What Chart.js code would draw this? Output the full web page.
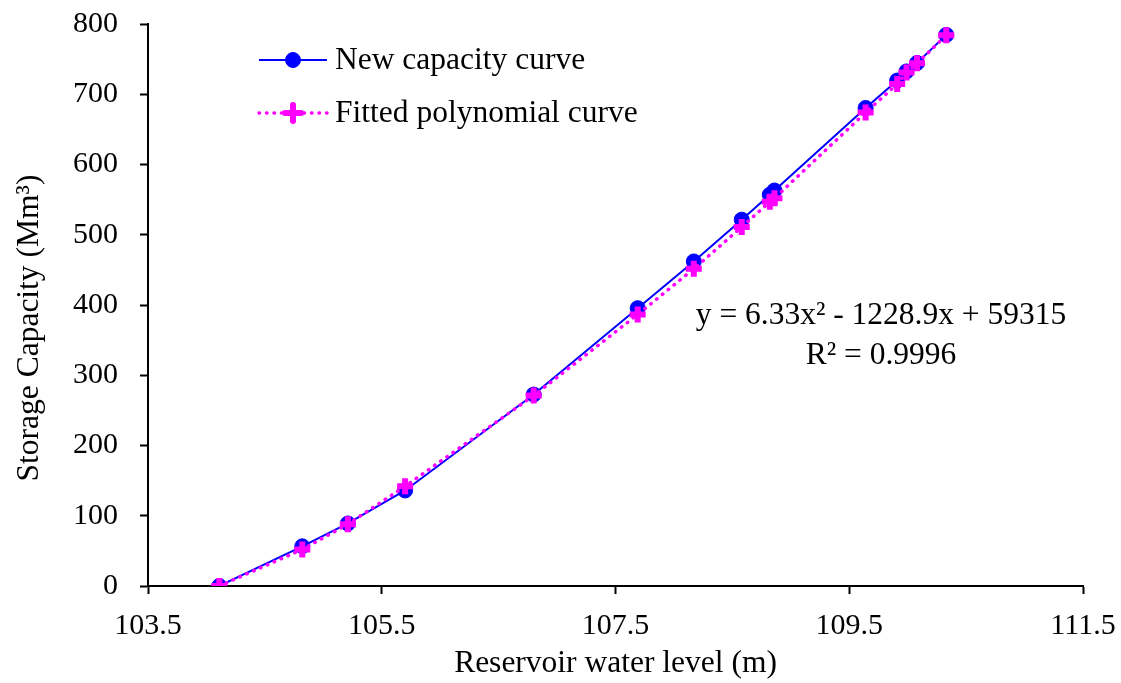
<!DOCTYPE html>
<html>
<head>
<meta charset="utf-8">
<script src="https://cdn.jsdelivr.net/npm/chart.js@4"></script>
<style>
  html, body { margin: 0; padding: 0; background: #fff; }
  #wrap { width: 1121px; height: 683px; }
</style>
</head>
<body>
<div id="wrap"><canvas id="capacityChart" width="1121" height="683"></canvas></div>
<script>
// water level (m) at each survey point
const waterLevel = [104.11, 104.82, 105.21, 105.70, 106.80, 107.69, 108.17, 108.58, 108.82, 108.86, 109.64, 109.91, 109.99, 110.08, 110.33];
// measured storage (Mm3)
const newCapacity = [0, 56.5, 89, 136, 272.5, 395.5, 462, 521.5, 557, 563, 680.5, 719.5, 732.5, 744.5, 784.5];
// storage from the fitted polynomial (Mm3)
const fittedCapacity = [0, 52, 88, 142, 271, 386.5, 451.5, 511, 547, 552, 674, 714.5, 731, 744, 784];
const xTicks = [103.5, 105.5, 107.5, 109.5, 111.5];
const yTicks = [0, 100, 200, 300, 400, 500, 600, 700, 800];
const seriesNames = ['New capacity curve', 'Fitted polynomial curve'];
const equationLines = ['y = 6.33x\u00b2 - 1228.9x + 59315', 'R\u00b2 = 0.9996'];
const yTitle = 'Storage Capacity (Mm\u00b3)';

const FONT = '"Liberation Serif", "Times New Roman", serif';
const TEXT_SIZE = 31.5;

const toPoints = (xs, ys) => xs.map((x, i) => ({ x: x, y: ys[i] }));

// legend drawn inside the plot, top-left
const insideLegend = {
    id: 'insideLegend',
    afterDraw(chart) {
        const ctx = chart.ctx;
        const rows = [60, 113];
        chart.data.datasets.forEach((ds, i) => {
            const y = rows[i];
            ctx.save();
            ctx.strokeStyle = ds.borderColor;
            ctx.lineWidth = ds.borderWidth;
            ctx.lineCap = ds.borderCapStyle || 'butt';
            ctx.setLineDash(ds.borderDash || []);
            ctx.beginPath();
            ctx.moveTo(259, y);
            ctx.lineTo(327, y);
            ctx.stroke();
            ctx.setLineDash([]);
            ctx.fillStyle = ds.pointBackgroundColor;
            ctx.strokeStyle = ds.pointBorderColor;
            ctx.lineWidth = ds.pointBorderWidth;
            Chart.helpers.drawPoint(ctx, {
                pointStyle: ds.pointStyle,
                radius: ds.pointRadius,
                borderWidth: ds.pointBorderWidth
            }, 293, y);
            ctx.fillStyle = '#000';
            ctx.font = TEXT_SIZE + 'px ' + FONT;
            ctx.textBaseline = 'middle';
            ctx.textAlign = 'left';
            ctx.fillText(ds.label, 335, y + 1);
            ctx.restore();
        });
    }
};

// trendline equation text and the rotated y-axis title
const extraText = {
    id: 'extraText',
    afterDraw(chart) {
        const ctx = chart.ctx;
        ctx.save();
        ctx.fillStyle = '#000';
        ctx.font = TEXT_SIZE + 'px ' + FONT;
        ctx.textAlign = 'center';
        ctx.textBaseline = 'alphabetic';
        ctx.fillText(equationLines[0], 881, 324);
        ctx.fillText(equationLines[1], 881, 364);

        ctx.translate(30, 328);
        ctx.rotate(-Math.PI / 2);
        ctx.textBaseline = 'middle';
        ctx.fillText(yTitle, 0, 0);
        ctx.restore();
    }
};

const ctx = document.getElementById('capacityChart').getContext('2d');
const chart = new Chart(ctx, {
    type: 'scatter',
    data: {
        datasets: [{
            label: seriesNames[0],
            data: toPoints(waterLevel, newCapacity),
            showLine: true,
            borderColor: '#0000ff',
            backgroundColor: '#0000ff',
            borderWidth: 2,
            pointStyle: 'circle',
            pointRadius: 7.5,
            pointBorderWidth: 1,
            pointBackgroundColor: '#0000ff',
            pointBorderColor: '#0000ff',
            order: 2
        }, {
            label: seriesNames[1],
            data: toPoints(waterLevel, fittedCapacity),
            showLine: true,
            borderColor: '#ff00ff',
            backgroundColor: '#ff00ff',
            borderWidth: 3.5,
            borderDash: [0.5, 7],
            borderCapStyle: 'round',
            pointStyle: 'cross',
            pointRadius: 8,
            pointBorderWidth: 6,
            pointBackgroundColor: '#ff00ff',
            pointBorderColor: '#ff00ff',
            order: 1
        }]
    },
    options: {
        responsive: false,
        animation: false,
        layout: { padding: { top: 24, right: 38, left: 0, bottom: 0 } },
        plugins: {
            legend: { display: false },
            tooltip: { enabled: false }
        },
        scales: {
            x: {
                type: 'linear',
                min: xTicks[0],
                max: xTicks[xTicks.length - 1],
                afterBuildTicks: (scale) => { scale.ticks = xTicks.map(v => ({ value: v })); },
                afterFit: (scale) => {
                    scale.height = 97;
                    // let the end labels overhang instead of shrinking the plot
                    scale.paddingLeft = 0;
                    scale.paddingRight = 0;
                },
                ticks: {
                    color: '#000',
                    font: { family: FONT, size: 30 },
                    padding: 14,
                    maxRotation: 0,
                    callback: (v) => v.toFixed(1)
                },
                grid: { drawOnChartArea: false, drawTicks: true, tickLength: 8, tickWidth: 2, tickColor: '#000' },
                border: { color: '#000', width: 2 },
                title: {
                    display: true,
                    text: 'Reservoir water level (m)',
                    color: '#000',
                    font: { family: FONT, size: TEXT_SIZE },
                    padding: { top: 4, bottom: 0 }
                }
            },
            y: {
                type: 'linear',
                min: yTicks[0],
                max: yTicks[yTicks.length - 1],
                afterBuildTicks: (scale) => { scale.ticks = yTicks.map(v => ({ value: v })); },
                afterFit: (scale) => {
                    scale.width = 148;
                    scale.paddingTop = 0;
                    scale.paddingBottom = 0;
                },
                ticks: {
                    color: '#000',
                    font: { family: FONT, size: 30 },
                    padding: 22
                },
                grid: { drawOnChartArea: false, drawTicks: true, tickLength: 8, tickWidth: 2, tickColor: '#000' },
                border: { color: '#000', width: 2 }
            }
        }
    },
    plugins: [insideLegend, extraText]
});
</script>
</body>
</html>
